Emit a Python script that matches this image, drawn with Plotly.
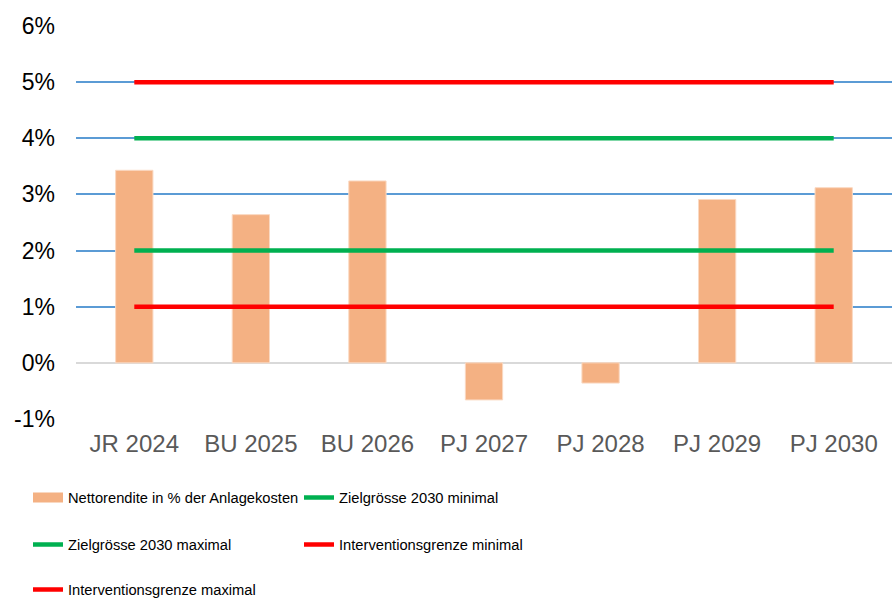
import plotly.graph_objects as go

categories = ["JR 2024", "BU 2025", "BU 2026", "PJ 2027", "PJ 2028", "PJ 2029", "PJ 2030"]
nettorendite = [3.43, 2.64, 3.24, -0.66, -0.36, 2.91, 3.12]
ziel_min = [2, 2, 2, 2, 2, 2, 2]
ziel_max = [4, 4, 4, 4, 4, 4, 4]
interv_min = [1, 1, 1, 1, 1, 1, 1]
interv_max = [5, 5, 5, 5, 5, 5, 5]
y_ticks = [-1, 0, 1, 2, 3, 4, 5, 6]
y_ticklabels = [f"{v}%" for v in y_ticks]

BAR = "#F4B183"
GREEN = "#00B050"
RED = "#FF0000"
LEGFONT = dict(family="Liberation Sans, Arial", size=14.7, color="#000000")

fig = go.Figure()
fig.add_trace(go.Bar(x=categories, y=nettorendite, marker=dict(color=BAR, line=dict(color="#FAD9C2", width=1)),
                     width=0.32, showlegend=False, name="Nettorendite in % der Anlagekosten"))
# legend proxy for bars
fig.add_trace(go.Scatter(x=[None], y=[None], mode="lines", line=dict(color=BAR, width=13),
                         name="Nettorendite in % der Anlagekosten", legend="legend"))
lines = [
    ("Zielgrösse 2030 minimal", ziel_min, GREEN, "legend"),
    ("Zielgrösse 2030 maximal", ziel_max, GREEN, "legend2"),
    ("Interventionsgrenze minimal", interv_min, RED, "legend2"),
    ("Interventionsgrenze maximal", interv_max, RED, "legend3"),
]
for name, vals, col, lg in lines:
    fig.add_trace(go.Scatter(x=categories, y=vals, mode="lines", line=dict(color=col, width=4.5),
                             name=name, legend=lg))

def leg(ypix):
    return dict(orientation="h", xref="container", yref="container",
                x=28 / 892, xanchor="left", y=1 - ypix / 599, yanchor="middle",
                font=LEGFONT, entrywidth=226, entrywidthmode="pixels",
                bgcolor="rgba(0,0,0,0)", borderwidth=0, itemclick=False, traceorder="normal")

fig.update_layout(
    width=892, height=599,
    margin=dict(l=76, r=0, t=26, b=180),
    plot_bgcolor="white", paper_bgcolor="white",
    font=dict(family="Liberation Sans, Arial", color="#000000"),
    legend=leg(498),
    legend2=leg(545),
    legend3=leg(590),
    xaxis=dict(type="category", showgrid=False, showline=False, ticks="",
               tickfont=dict(size=24, color="#595959"), ticklabelstandoff=8),
    yaxis=dict(range=[-1, 6], tickvals=y_ticks, ticktext=y_ticklabels,
               showgrid=True, gridcolor="#5B9BD5", gridwidth=1.5,
               zeroline=True, zerolinecolor="#D9D9D9", zerolinewidth=1.5,
               showline=False, ticks="", tickfont=dict(size=23, color="#000000"),
               ticklabelstandoff=20),
)

fig.write_html("out.html")
